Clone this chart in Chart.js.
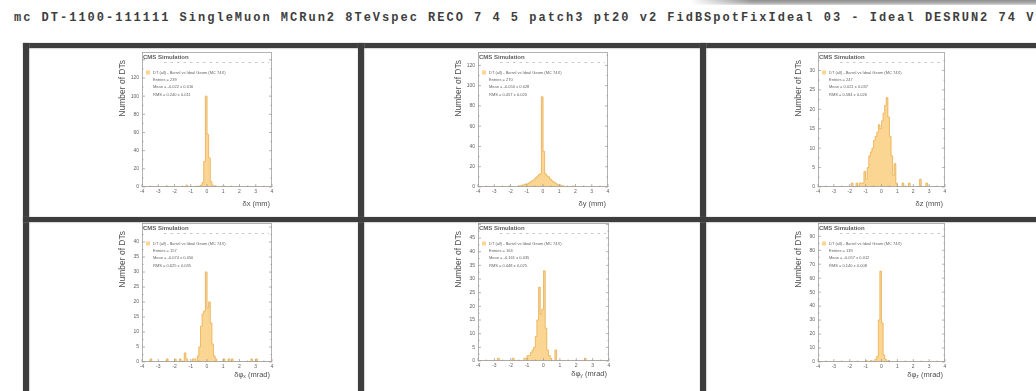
<!DOCTYPE html>
<html>
<head>
<meta charset="utf-8">
<title>DT alignment validation</title>
<script src="https://cdn.jsdelivr.net/npm/chart.js@4.4.1/dist/chart.umd.min.js"></script>
<style>
  html, body { margin: 0; padding: 0; background: #fff; }
  body { position: relative; width: 1036px; height: 391px; overflow: hidden; }
  #run-title {
    position: absolute; left: 14px; top: 11px; white-space: nowrap;
    font: bold 12px "Liberation Mono", "DejaVu Sans Mono", monospace;
    letter-spacing: 2px; color: #3e3e3e;
  }
  #tab {
    position: absolute; left: 690px; top: 0; width: 346px; height: 5px;
    background: linear-gradient(180deg, #8e8e8e 0%, #acacac 60%, #dcdcdc 100%);
    border-bottom-left-radius: 6px;
    -webkit-mask-image: linear-gradient(90deg, transparent 0%, #000 18%);
    mask-image: linear-gradient(90deg, transparent 0%, #000 18%);
  }
  .rule { position: absolute; background: #3d3d3d; box-shadow: 0 0 1.5px 0.5px #8a8a8a; z-index: 2; }
  canvas { position: absolute; z-index: 1; }
</style>
</head>
<body>
<div id="run-title">mc DT-1100-111111 SingleMuon MCRun2 8TeVspec RECO 7 4 5 patch3 pt20 v2 FidBSpotFixIdeal 03 - Ideal DESRUN2 74 V1</div>
<div id="tab"></div>
<div class="rule" style="left:23px;top:43px;width:1013px;height:5px"></div>
<div class="rule" style="left:23px;top:43px;width:6px;height:348px"></div>
<div class="rule" style="left:358px;top:43px;width:6px;height:348px"></div>
<div class="rule" style="left:700px;top:43px;width:6px;height:348px"></div>
<div class="rule" style="left:23px;top:217px;width:1013px;height:5px"></div>

<script>
// Common binning of the six residual histograms: 80 bins of 0.1 between -4 and 4
const X_MIN = -4, X_MAX = 4, BIN_WIDTH = 0.1;
const X_TICKS = [-4, -3, -2, -1, 0, 1, 2, 3, 4];

// Non-empty bins, as [bin centre, number of DTs]
const DX_BINS = [[-2.45,1],[-1.25,2],[-0.65,1],[-0.35,2],[-0.25,5],[-0.15,28],[-0.05,100],[0.05,58],[0.15,32],[0.25,6],[0.35,2],[0.55,1],[1.05,1]];
const DY_BINS = [[-2.05,1],[-1.45,1],[-1.35,1],[-1.25,2],[-1.15,2],[-1.05,3],[-0.95,3],[-0.85,4],[-0.75,5],[-0.65,6],[-0.55,7],[-0.45,9],[-0.35,10],[-0.25,12],[-0.15,13],[-0.05,89],[0.05,35],[0.15,13],[0.25,11],[0.35,10],[0.45,8],[0.55,6],[0.65,5],[0.75,4],[0.85,3],[0.95,2],[1.05,2],[1.15,1],[1.25,1],[1.85,1]];
const DZ_BINS = [[-1.85,1],[-1.55,1],[-1.35,1],[-1.25,1],[-1.15,1],[-1.05,4],[-0.95,2],[-0.85,5],[-0.75,8],[-0.65,9],[-0.55,10],[-0.45,12],[-0.35,13],[-0.25,14],[-0.15,16],[-0.05,15],[0.05,17],[0.15,19],[0.25,21],[0.35,23],[0.45,18],[0.55,13],[0.65,8],[0.75,3],[0.85,6],[0.95,1],[1.35,1],[1.75,1],[2.45,2],[2.85,1]];
const DPHIX_BINS = [[-3.45,1],[-2.45,1],[-1.95,1],[-1.65,1],[-1.35,3],[-1.25,1],[-0.85,1],[-0.75,1],[-0.55,2],[-0.45,5],[-0.35,12],[-0.25,16],[-0.15,17],[-0.05,30],[0.05,18],[0.15,20],[0.25,13],[0.35,6],[0.45,2],[0.55,1],[1.05,1],[1.35,1],[1.55,1],[2.75,1],[3.05,1]];
const DPHIY_BINS = [[-2.75,1],[-1.85,1],[-1.15,1],[-1.05,1],[-0.95,2],[-0.85,2],[-0.75,3],[-0.65,4],[-0.55,5],[-0.45,9],[-0.35,15],[-0.25,27],[-0.15,17],[-0.05,19],[0.05,33],[0.15,12],[0.25,4],[0.35,2],[0.45,1],[0.75,4],[2.55,1]];
const DPHIZ_BINS = [[-0.95,1],[-0.65,1],[-0.35,2],[-0.25,4],[-0.15,30],[-0.05,65],[0.05,28],[0.15,5],[0.25,2],[0.45,1]];

// Labelled y ticks of each histogram
const DX_YTICKS = [0, 20, 40, 60, 80, 100, 120];
const DY_YTICKS = [0, 20, 40, 60, 80, 100, 120];
const DZ_YTICKS = [0, 5, 10, 15, 20, 25, 30];
const DPHIX_YTICKS = [0, 5, 10, 15, 20, 25, 30, 35, 40];
const DPHIY_YTICKS = [0, 5, 10, 15, 20, 25, 30, 35, 40, 45];
const DPHIZ_YTICKS = [0, 10, 20, 30, 40, 50, 60, 70, 80, 90];

const LEGEND_LABEL = 'DT (all) - Barrel vs Ideal Geom (MC 74X)';
const Y_TITLE = 'Number of DTs';
const FILL = '#fbd592';
const OUTLINE = '#e8b45e';
const FONT = '"Liberation Sans", Arial, sans-serif';

// One pad per table cell; frame = plot frame [left, top, right, bottom] on the page
const PANELS = [
  { bins: DX_BINS,    yTicks: DX_YTICKS,    yMax: 148.6, xTitle: ['δx', '', ' (mm)'],      frame: [142, 52, 272, 187], xTitleDy: 17 },
  { bins: DY_BINS,    yTicks: DY_YTICKS,    yMax: 133.2, xTitle: ['δy', '', ' (mm)'],      frame: [478, 52, 608, 187], xTitleDy: 17 },
  { bins: DZ_BINS,    yTicks: DZ_YTICKS,    yMax: 34.75, xTitle: ['δz', '', ' (mm)'],      frame: [818, 52, 945, 187], xTitleDy: 17 },
  { bins: DPHIX_BINS, yTicks: DPHIX_YTICKS, yMax: 46.35, xTitle: ['δφ', 'x', ' (mrad)'],   frame: [142, 223, 272, 362], xTitleDy: 13 },
  { bins: DPHIY_BINS, yTicks: DPHIY_YTICKS, yMax: 50.5,  xTitle: ['δφ', 'y', ' (mrad)'],   frame: [478, 223, 609, 361], xTitleDy: 13 },
  { bins: DPHIZ_BINS, yTicks: DPHIZ_YTICKS, yMax: 99.5,  xTitle: ['δφ', 'z', ' (mrad)'],   frame: [818, 223, 945, 362], xTitleDy: 13 }
];

// Expand the sparse bin list to every bin of the axis (empty bins hold 0)
function fullBins(sparse) {
  const n = Math.round((X_MAX - X_MIN) / BIN_WIDTH);
  const out = [];
  for (let i = 0; i < n; i++) out.push({ x: +(X_MIN + BIN_WIDTH * (i + 0.5)).toFixed(2), y: 0 });
  sparse.forEach(([c, v]) => { out[Math.round((c - X_MIN) / BIN_WIDTH - 0.5)].y = v; });
  return out;
}

// Entries, mean and RMS of a histogram, with their statistical errors
function stats(sparse) {
  let n = 0, s = 0;
  sparse.forEach(([c, v]) => { n += v; s += c * v; });
  const mean = s / n;
  let q = 0;
  sparse.forEach(([c, v]) => { q += v * (c - mean) * (c - mean); });
  const rms = Math.sqrt(q / n);
  return { n, mean, rms, meanErr: rms / Math.sqrt(n), rmsErr: rms / Math.sqrt(2 * n) };
}

// ROOT-like decorations: frame, inward ticks, labels, legend and statistics box
const rootStyle = {
  id: 'rootStyle',
  afterDatasetsDraw(chart, args, opts) {
    const p = opts.panel;
    const { ctx, chartArea: a, scales: { x, y } } = chart;
    ctx.save();

    ctx.strokeStyle = '#a0a0a0';
    ctx.lineWidth = 0.8;
    ctx.strokeRect(a.left + 0.5, a.top + 0.5, a.width - 1, a.height - 1);

    ctx.strokeStyle = '#959595';
    ctx.lineWidth = 0.7;
    ctx.beginPath();
    for (let v = X_MIN; v <= X_MAX + 1e-9; v += 0.5) {
      const px = x.getPixelForValue(v);
      const len = Number.isInteger(v) ? 3 : 1.5;
      ctx.moveTo(px, a.bottom); ctx.lineTo(px, a.bottom - len);
    }
    const yStep = p.yTicks[1] - p.yTicks[0];
    for (let v = 0; v <= p.yMax; v += yStep / 2) {
      const py = y.getPixelForValue(v);
      const len = Math.abs(v / yStep - Math.round(v / yStep)) < 1e-6 ? 3 : 1.5;
      ctx.moveTo(a.left, py); ctx.lineTo(a.left + len, py);
      ctx.moveTo(a.right, py); ctx.lineTo(a.right - len, py);
    }
    ctx.stroke();

    ctx.setLineDash([2.5, 4]);
    ctx.strokeStyle = '#b0b0b0';
    ctx.beginPath();
    ctx.moveTo(a.left + 22, a.top + 10.5);
    ctx.lineTo(a.right - 3, a.top + 10.5);
    ctx.stroke();
    ctx.setLineDash([]);

    ctx.textBaseline = 'middle';
    ctx.textAlign = 'left';
    ctx.fillStyle = '#5e5e5e';
    ctx.font = 'bold 6px ' + FONT;
    ctx.fillText('CMS Simulation', a.left + 1, a.top + 5);

    ctx.fillStyle = FILL;
    ctx.fillRect(a.left + 4, a.top + 18.5, 4, 4);
    ctx.fillStyle = '#626262';
    ctx.font = '4px ' + FONT;
    ctx.fillText(LEGEND_LABEL, a.left + 11, a.top + 20.5);
    const st = stats(p.bins);
    ctx.fillText('Entries = ' + st.n, a.left + 11, a.top + 27.5);
    ctx.fillText('Mean = ' + st.mean.toFixed(3) + ' ± ' + st.meanErr.toFixed(3), a.left + 11, a.top + 35);
    ctx.fillText('RMS = ' + st.rms.toFixed(3) + ' ± ' + st.rmsErr.toFixed(3), a.left + 11, a.top + 42.5);

    ctx.fillStyle = '#505050';
    ctx.font = '8.5px ' + FONT;
    ctx.save();
    ctx.translate(a.left - 19, a.top + 8);
    ctx.rotate(-Math.PI / 2);
    ctx.textAlign = 'right';
    ctx.fillText(Y_TITLE, 0, 0);
    ctx.restore();

    const [main, sub, unit] = p.xTitle;
    const big = '7.5px ' + FONT, small = '5px ' + FONT;
    ctx.font = big;
    const wMain = ctx.measureText(main).width, wUnit = ctx.measureText(unit).width;
    ctx.font = small;
    const wSub = sub ? ctx.measureText(sub).width : 0;
    let tx = a.right - 2 - (wMain + wSub + wUnit);
    const ty = a.bottom + p.xTitleDy;
    ctx.font = big; ctx.fillText(main, tx, ty); tx += wMain;
    if (sub) { ctx.font = small; ctx.fillText(sub, tx, ty + 2); tx += wSub; }
    ctx.font = big; ctx.fillText(unit, tx, ty);

    ctx.restore();
  }
};

const Y_AXIS_W = 16, X_AXIS_H = 10;
const PAD_L = 115, PAD_R = 80, PAD_T = 10, PAD_B = 30;

PANELS.forEach(p => {
  const [fx0, fy0, fx1, fy1] = p.frame;
  const w = (fx1 - fx0) + PAD_L + PAD_R;
  const h = (fy1 - fy0) + PAD_T + PAD_B;
  const canvas = document.createElement('canvas');
  canvas.width = w; canvas.height = h;
  canvas.style.left = (fx0 - PAD_L) + 'px';
  canvas.style.top = (fy0 - PAD_T) + 'px';
  canvas.style.width = w + 'px';
  canvas.style.height = h + 'px';
  document.body.appendChild(canvas);

  const points = fullBins(p.bins);
  new Chart(canvas, {
    type: 'bar',
    data: {
      datasets: [
        { type: 'bar', data: points, backgroundColor: FILL, borderWidth: 0,
          barPercentage: 1, categoryPercentage: 1, grouped: false, order: 2 },
        { type: 'line', data: points, stepped: 'middle', borderColor: OUTLINE,
          borderWidth: 0.8, pointRadius: 0, fill: false, order: 1 }
      ]
    },
    options: {
      responsive: false, animation: false, devicePixelRatio: 1,
      layout: { padding: { left: PAD_L - Y_AXIS_W, right: PAD_R, top: PAD_T, bottom: PAD_B - X_AXIS_H } },
      plugins: { legend: { display: false }, tooltip: { enabled: false }, rootStyle: { panel: p } },
      scales: {
        x: {
          type: 'linear', min: X_MIN, max: X_MAX, offset: false,
          grid: { display: false, drawTicks: false }, border: { display: false },
          afterBuildTicks: s => { s.ticks = X_TICKS.map(v => ({ value: v })); },
          ticks: { autoSkip: false, maxRotation: 0, padding: 2, color: '#5e5e5e', font: { family: FONT, size: 5 } },
          afterFit: s => { s.height = X_AXIS_H; }
        },
        y: {
          min: 0, max: p.yMax,
          grid: { display: false, drawTicks: false }, border: { display: false },
          afterBuildTicks: s => { s.ticks = p.yTicks.map(v => ({ value: v })); },
          ticks: { padding: 3, color: '#5e5e5e', font: { family: FONT, size: 5 } },
          afterFit: s => { s.width = Y_AXIS_W; }
        }
      }
    },
    plugins: [rootStyle]
  });
});
</script>
</body>
</html>
